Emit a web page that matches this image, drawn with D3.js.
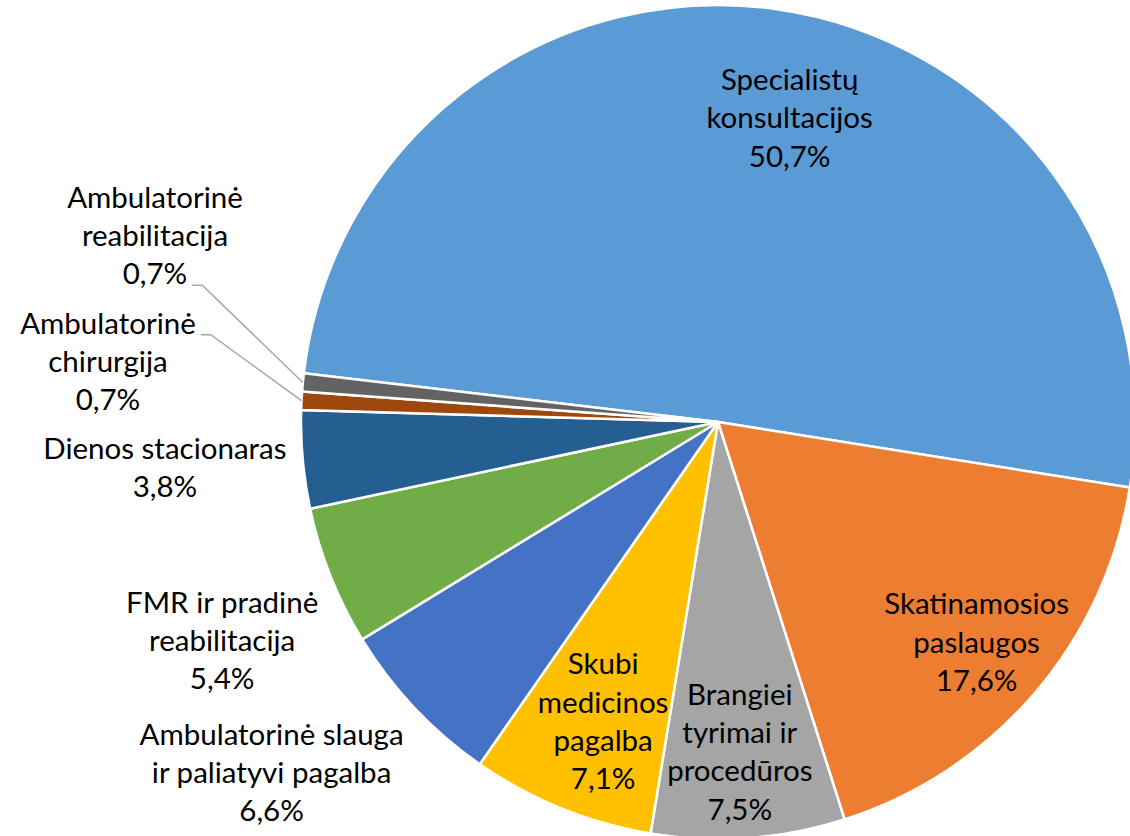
<!DOCTYPE html>
<html>
<head>
<meta charset="utf-8">
<script src="https://cdn.jsdelivr.net/npm/d3@7"></script>
<style>
  body { margin: 0; background: #fff; }
  text { font-family: Lato, "Open Sans", sans-serif; fill: #000; }
</style>
</head>
<body>
<div id="chart"></div>
<script>
// data
const names = [
    ['Specialistų', 'konsultacijos'],
    ['Skatinamosios', 'paslaugos'],
    ['Brangiei', 'tyrimai ir', 'procedūros'],
    ['Skubi', 'medicinos', 'pagalba'],
    ['Ambulatorinė slauga', 'ir paliatyvi pagalba'],
    ['FMR ir pradinė', 'reabilitacija'],
    ['Dienos stacionaras'],
    ['Ambulatorinė', 'chirurgija'],
    ['Ambulatorinė', 'reabilitacija']
];
const values = [50.7, 17.6, 7.5, 7.1, 6.6, 5.4, 3.8, 0.7, 0.7];
const colors = ['#5B9BD5', '#ED7D31', '#A5A5A5', '#FFC000', '#4472C4', '#70AD47', '#255E91', '#9E480E', '#636363'];

// label placement (angle shift from slice middle in degrees, distance from centre in px)
const labelShift = [5.4, -0.2, 0.4, -1.1, 5.1, -2.1, 0.4, 2.7, 12.85];
const labelDist = [312, 340, 331, 321, 568, 542, 555, 613, 593];
// leader lines: which text line it starts from (-1 = none)
const leaderLine = [-1, -1, -1, -1, -1, -1, -1, 0, 2];

// set dimensions
const w = 1130;
const h = 836;
const cx = 718;
const cy = 422;
const radius = 417;
const fontSize = 29.5;
const lineH = 38.3;
const deg = Math.PI / 180;

const svg = d3.select('#chart')
    .append('svg')
    .attr('width', w)
    .attr('height', h);

const g = svg.append('g').attr('transform', `translate(${cx}, ${cy})`);

const pie = d3.pie()
    .sort(null)
    .value(d => d)
    .startAngle(-83.3 * deg)
    .endAngle(276.7 * deg);

const arcs = pie(values);
const arc = d3.arc().innerRadius(0).outerRadius(radius);

// slices
g.selectAll('path.slice')
    .data(arcs)
    .enter()
    .append('path')
    .attr('class', 'slice')
    .attr('d', arc)
    .attr('fill', (d, i) => colors[i])
    .attr('stroke', '#fff')
    .attr('stroke-width', 2.5)
    .attr('stroke-linejoin', 'round');

const fmt = v => d3.format('.1f')(v).replace('.', ',') + '%';

// labels
arcs.forEach((d, i) => {
    const mid = (d.startAngle + d.endAngle) / 2 + labelShift[i] * deg;
    const lx = labelDist[i] * Math.sin(mid);
    const ly = -labelDist[i] * Math.cos(mid);
    const lines = names[i].concat([fmt(values[i])]);
    const first = ly + 10 - (lines.length - 1) / 2 * lineH;

    const t = g.append('text')
        .attr('text-anchor', 'middle')
        .attr('font-size', fontSize);
    const spans = lines.map((s, j) => t.append('tspan')
        .attr('x', lx)
        .attr('y', first + j * lineH)
        .text(s));

    if (leaderLine[i] >= 0) {
        const k = leaderLine[i];
        const len = spans[k].node().getComputedTextLength();
        const x0 = lx + len / 2 + 5;
        const y0 = first + k * lineH + 1;
        const am = (d.startAngle + d.endAngle) / 2;
        const x2 = radius * Math.sin(am);
        const y2 = -radius * Math.cos(am);
        g.append('path')
            .attr('d', d3.line()([[x0, y0], [x0 + 10, y0], [x2, y2]]))
            .attr('fill', 'none')
            .attr('stroke', '#A6A6A6')
            .attr('stroke-width', 1.5);
    }
});
</script>
</body>
</html>
